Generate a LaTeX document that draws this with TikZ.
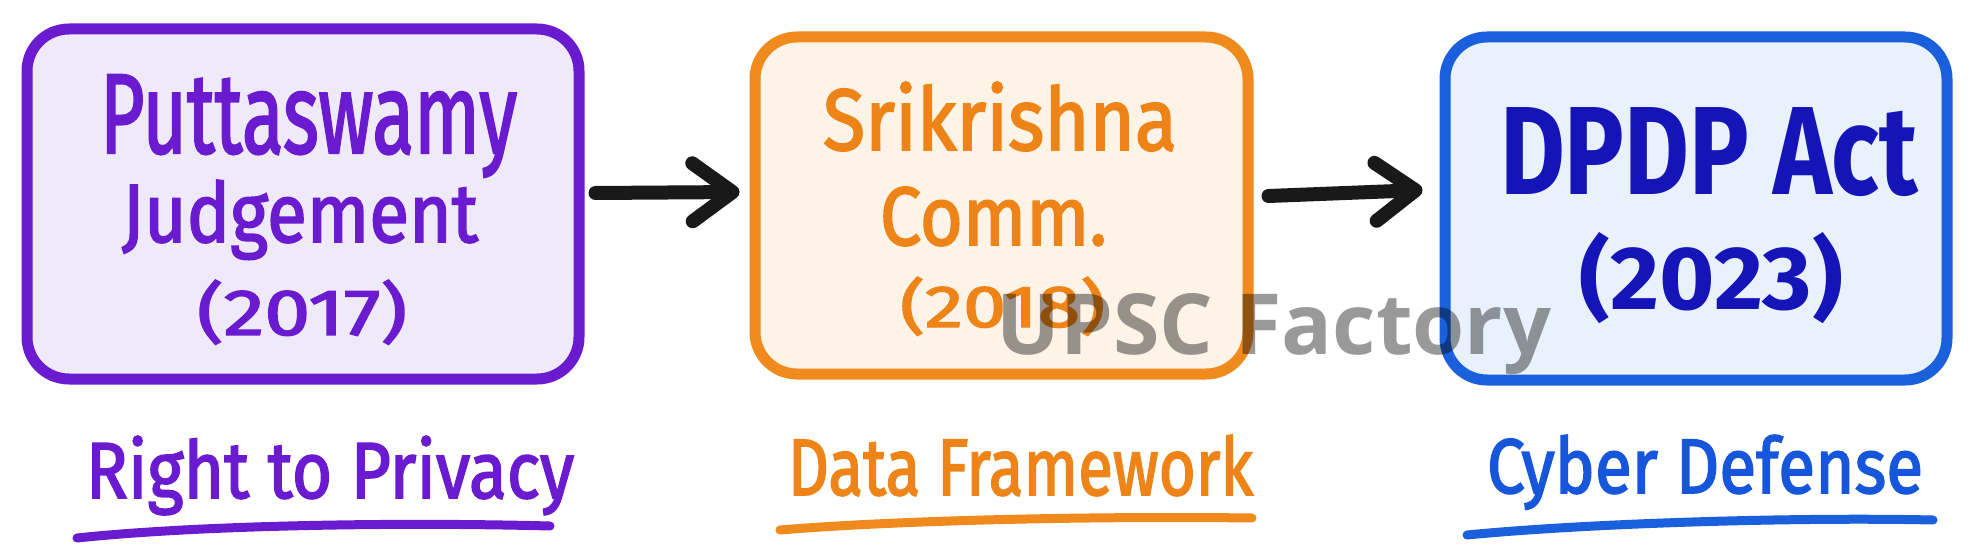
\documentclass[tikz,border=0pt]{standalone}
\usepackage{graphicx}
\usepackage{fontspec}
\setmainfont{Fira Sans}
\newfontfamily\handfont[FakeBold=2.2]{Fira Sans}
\newfontfamily\wmfont{Open Sans}
\usetikzlibrary{arrows.meta,calc}
\definecolor{purp}{HTML}{6A1BD0}
\definecolor{purpfill}{HTML}{EFEAF9}
\definecolor{orng}{HTML}{F08A1C}
\definecolor{orngtext}{HTML}{EE8417}
\definecolor{orngfill}{HTML}{FDF3E6}
\definecolor{blu}{HTML}{1A5FDB}
\definecolor{blufill}{HTML}{E9F2FC}
\definecolor{navy}{HTML}{1414B8}
\definecolor{blutext}{HTML}{1656DA}
\newcommand{\hw}[3]{\resizebox{#1pt}{#2pt}{#3}}
\tikzset{
  card/.style={draw=#1, rectangle, rounded corners=42pt, line width=11pt, inner sep=0pt},
  hand/.style={text=#1, inner sep=0pt, anchor=base, font=\handfont},
  handbold/.style={text=#1, inner sep=0pt, anchor=base, font=\bfseries},
  arr/.style={line width=14pt, line cap=round, black!90,
    -{Straight Barb[round, length=40pt, width=58pt]}},
  uline/.style={draw=#1, line width=9pt, line cap=round},
}
\begin{document}
\begin{tikzpicture}[x=1pt,y=1pt]
\useasboundingbox[fill=white] (0,0) rectangle (1981,558);
% boxes
\node[card=purp, fill=purpfill, minimum width=552pt, minimum height=350pt] (b1) at (303,354) {};
\node[card=orng, fill=orngfill, minimum width=493pt, minimum height=337pt] (b2) at (1001.5,352.5) {};
\node[card=blu, fill=blufill, minimum width=502pt, minimum height=343pt] (b3) at (1696,349.5) {};
% box texts
\node[hand=purp] (t1a) at (308.5,405) {\hw{417}{78}{Puttaswamy}};
\node[hand=purp] (t1b) at (300,316) {\hw{356}{62}{Judgement}};
\node[hand=purp] (t1c) at (302,223) {\hw{210}{55}{(2017)}};
\node[hand=orngtext] (t2a) at (1000,408) {\hw{354}{68}{Srikrishna}};
\node[hand=orngtext] (t2b) at (993.5,313) {\hw{227}{58}{Comm.}};
\node[hand=orngtext] (t2c) at (1002.5,231) {\hw{205}{50}{(2018)}};
\node[handbold=navy] (t3a) at (1709,363) {\hw{418}{87}{DPDP Act}};
\node[handbold=navy] (t3b) at (1711.5,248) {\hw{263}{77}{(2023)}};
% arrows
\draw[arr] ($(b1.east)+(11,11)$) -- ($(b2.west)+(-10,13.5)$);
\draw[arr] ($(b2.east)+(15,9.5)$) -- ($(b3.west)+(-17,18.5)$);
% labels
\node[hand=purp] (l1) at (330,60) {\hw{488}{62}{Right to Privacy}};
\node[hand=orngtext] (l2) at (1020.5,63) {\hw{465}{60}{Data Framework}};
\node[hand=blutext] (l3) at (1705,65) {\hw{436}{58}{Cyber Defense}};
% underlines
\coordinate (u1s) at (77,20);  \coordinate (u1e) at (550,32);
\coordinate (u2s) at (780,28); \coordinate (u2e) at (1252,40);
\coordinate (u3s) at (1467,23); \coordinate (u3e) at (1933,38);
\draw[uline=purp] (u1s) .. controls (200,33) and (400,36) .. (u1e);
\draw[uline=orng] (u2s) .. controls (900,38) and (1100,42) .. (u2e);
\draw[uline=blu] (u3s) .. controls (1590,35) and (1800,41) .. (u3e);
% watermark
\node[anchor=base, inner sep=0pt, text=black, text opacity=0.4] (wm) at (1274,204)
  {\wmfont\bfseries\resizebox{554pt}{61pt}{UPSC Factory}};
\end{tikzpicture}
\end{document}
